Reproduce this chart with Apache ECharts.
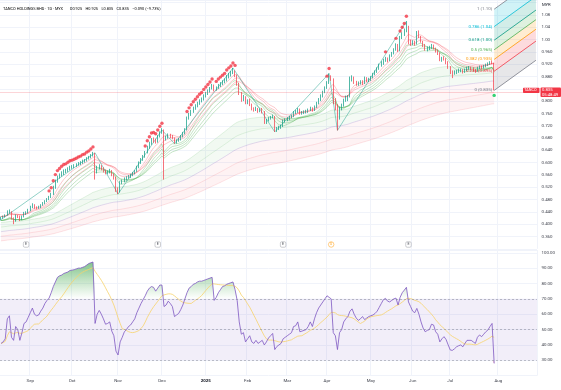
<!DOCTYPE html>
<html>
<head>
<meta charset="utf-8">
<title>TANCO HOLDINGS BHD</title>
<script src="https://cdn.jsdelivr.net/npm/echarts@6/dist/echarts.min.js"></script>
<style>
html,body{margin:0;padding:0;background:#ffffff;}
#chart{width:561px;height:390px;}
</style>
</head>
<body>
<div id="chart"></div>
<script>
// ---------------- data ----------------
const firstDate = '2024-08-13';
const holidays = ['2024-09-16','2024-10-31','2024-12-25','2025-01-01','2025-01-29','2025-01-30','2025-02-11','2025-03-18','2025-03-31','2025-04-01','2025-05-01','2025-05-12','2025-06-02','2025-06-09','2025-06-27'];
const candleCount = 237;
const futureBars = 20;
const monthNames = ['Jan','Feb','Mar','Apr','May','Jun','Jul','Aug','Sep','Oct','Nov','Dec'];

const opens = [
0.418,0.420,0.425,0.430,0.440,0.442,0.418,0.410,0.428,0.425,0.415,0.425,0.435,0.438,
0.445,0.455,0.462,0.453,0.452,0.455,0.462,0.468,0.475,0.480,0.488,0.498,0.520,0.540,0.552,0.560,0.565,0.572,0.575,0.580,
0.585,0.588,0.590,0.594,0.598,0.600,0.605,0.608,0.614,0.618,0.624,0.630,0.572,0.585,0.590,0.580,0.572,0.566,0.570,0.574,0.560,0.552,
0.512,0.505,0.535,0.540,0.548,0.552,0.556,0.560,0.566,0.572,0.586,0.600,0.610,0.620,0.635,0.650,0.662,0.674,0.672,0.668,0.686,
0.698,0.706,0.680,0.682,0.690,0.686,0.680,0.666,0.672,0.676,0.686,0.696,0.708,0.745,0.758,0.768,0.778,0.786,0.794,0.802,0.808,
0.818,0.826,0.834,0.842,0.852,0.838,0.845,0.852,0.858,0.864,0.868,0.880,0.886,0.892,0.898,0.884,0.856,0.826,0.804,0.814,
0.796,0.800,0.788,0.776,0.772,0.776,0.768,0.772,0.766,0.732,0.738,0.744,0.748,0.750,0.708,0.712,0.716,0.720,0.736,
0.740,0.744,0.748,0.752,0.764,0.766,0.774,0.760,0.762,0.764,0.766,0.772,0.778,0.770,0.782,0.794,0.806,0.818,0.830,
0.844,0.860,0.878,0.872,0.798,0.782,0.745,0.776,0.786,0.804,0.812,0.816,0.870,0.878,0.862,0.856,0.858,0.864,0.858,0.874,0.866,
0.870,0.878,0.888,0.896,0.906,0.918,0.924,0.934,0.940,0.932,0.948,0.956,0.968,0.984,0.966,1.008,1.018,1.028,1.040,0.992,
0.988,0.990,0.986,1.020,1.010,0.994,0.982,0.968,0.972,0.974,0.980,0.972,0.962,0.956,0.936,0.940,0.938,0.926,
0.910,0.894,0.890,0.895,0.898,0.900,0.902,0.895,0.902,0.908,0.908,0.905,0.900,0.898,0.908,0.912,0.910,0.914,0.918,0.922,0.926,0.925
];
const closes = [
0.420,0.425,0.430,0.440,0.442,0.418,0.410,0.428,0.425,0.415,0.425,0.435,0.438,0.445,
0.455,0.462,0.453,0.452,0.455,0.462,0.468,0.475,0.480,0.488,0.498,0.520,0.540,0.552,0.560,0.565,0.572,0.575,0.580,0.585,
0.588,0.590,0.594,0.598,0.600,0.605,0.608,0.614,0.618,0.624,0.630,0.572,0.585,0.590,0.580,0.572,0.566,0.570,0.574,0.560,0.552,0.512,
0.505,0.535,0.540,0.548,0.552,0.556,0.560,0.566,0.572,0.586,0.600,0.610,0.620,0.635,0.650,0.662,0.674,0.672,0.668,0.686,0.698,
0.706,0.680,0.682,0.690,0.686,0.680,0.666,0.672,0.676,0.686,0.696,0.708,0.745,0.758,0.768,0.778,0.786,0.794,0.802,0.808,0.818,
0.826,0.834,0.842,0.852,0.838,0.845,0.852,0.858,0.864,0.868,0.880,0.886,0.892,0.898,0.884,0.856,0.826,0.804,0.814,0.796,
0.800,0.788,0.776,0.772,0.776,0.768,0.772,0.766,0.732,0.738,0.744,0.748,0.750,0.708,0.712,0.716,0.720,0.736,0.740,
0.744,0.748,0.752,0.764,0.766,0.774,0.760,0.762,0.764,0.766,0.772,0.778,0.770,0.782,0.794,0.806,0.818,0.830,0.844,
0.860,0.878,0.872,0.798,0.782,0.745,0.776,0.786,0.804,0.812,0.816,0.870,0.878,0.862,0.856,0.858,0.864,0.858,0.874,0.866,0.870,
0.878,0.888,0.896,0.906,0.918,0.924,0.934,0.940,0.932,0.948,0.956,0.968,0.984,0.966,1.008,1.018,1.028,1.040,0.992,0.988,
0.990,0.986,1.020,1.010,0.994,0.982,0.968,0.972,0.974,0.980,0.972,0.962,0.956,0.936,0.940,0.938,0.926,0.910,
0.894,0.890,0.895,0.898,0.900,0.902,0.895,0.902,0.908,0.908,0.905,0.900,0.898,0.908,0.912,0.910,0.914,0.918,0.922,0.926,0.925,0.835
];
const highs = [
0.425,0.428,0.432,0.445,0.448,0.442,0.422,0.432,0.430,0.428,0.428,0.440,0.442,0.450,
0.460,0.468,0.465,0.458,0.460,0.465,0.472,0.478,0.485,0.492,0.502,0.525,0.545,0.558,0.565,0.572,0.578,0.580,0.585,0.590,
0.592,0.595,0.598,0.602,0.605,0.610,0.612,0.618,0.622,0.628,0.635,0.632,0.590,0.595,0.592,0.585,0.578,0.575,0.580,0.576,0.565,0.555,
0.520,0.540,0.545,0.552,0.556,0.560,0.564,0.570,0.576,0.590,0.604,0.615,0.625,0.638,0.655,0.668,0.680,0.682,0.678,0.690,0.702,
0.712,0.708,0.688,0.695,0.694,0.690,0.682,0.676,0.680,0.690,0.700,0.712,0.750,0.762,0.772,0.782,0.790,0.798,0.806,0.812,0.822,
0.830,0.838,0.846,0.856,0.854,0.848,0.856,0.862,0.868,0.874,0.885,0.892,0.898,0.908,0.900,0.886,0.860,0.830,0.820,0.816,
0.806,0.808,0.792,0.780,0.782,0.778,0.776,0.778,0.768,0.742,0.748,0.752,0.756,0.752,0.716,0.720,0.724,0.740,0.744,
0.748,0.752,0.756,0.768,0.772,0.778,0.776,0.768,0.770,0.772,0.776,0.782,0.780,0.786,0.798,0.810,0.822,0.834,0.848,
0.865,0.890,0.884,0.874,0.810,0.790,0.782,0.792,0.808,0.818,0.820,0.880,0.884,0.880,0.866,0.864,0.868,0.868,0.880,0.878,0.876,
0.882,0.892,0.900,0.910,0.922,0.930,0.938,0.944,0.942,0.952,0.960,0.972,0.988,0.986,1.012,1.024,1.036,1.060,1.045,1.000,
0.998,0.996,1.028,1.030,1.012,0.996,0.986,0.978,0.980,0.986,0.984,0.974,0.968,0.958,0.944,0.946,0.940,0.930,
0.914,0.900,0.900,0.902,0.906,0.906,0.904,0.906,0.912,0.914,0.912,0.910,0.904,0.912,0.916,0.916,0.918,0.922,0.926,0.930,0.932,0.925
];
const lows = [
0.412,0.418,0.422,0.428,0.435,0.415,0.400,0.408,0.420,0.410,0.413,0.422,0.430,0.435,
0.442,0.452,0.450,0.448,0.450,0.452,0.460,0.465,0.472,0.478,0.485,0.495,0.515,0.535,0.548,0.555,0.560,0.566,0.570,0.575,
0.580,0.582,0.586,0.590,0.592,0.596,0.600,0.604,0.610,0.614,0.620,0.545,0.565,0.578,0.575,0.568,0.562,0.562,0.565,0.556,0.545,0.505,
0.498,0.503,0.530,0.536,0.542,0.548,0.550,0.556,0.562,0.570,0.582,0.596,0.606,0.616,0.630,0.645,0.658,0.665,0.662,0.665,0.682,
0.694,0.545,0.672,0.678,0.680,0.676,0.662,0.662,0.668,0.672,0.682,0.692,0.705,0.740,0.752,0.762,0.772,0.780,0.788,0.796,0.802,
0.812,0.820,0.828,0.838,0.832,0.834,0.840,0.846,0.852,0.858,0.864,0.874,0.880,0.888,0.878,0.850,0.820,0.798,0.800,0.790,
0.790,0.784,0.770,0.766,0.768,0.762,0.764,0.760,0.726,0.726,0.734,0.740,0.744,0.700,0.700,0.706,0.710,0.716,0.730,
0.735,0.738,0.744,0.748,0.758,0.762,0.756,0.756,0.758,0.760,0.762,0.768,0.766,0.768,0.778,0.790,0.800,0.812,0.826,
0.840,0.856,0.866,0.790,0.770,0.705,0.740,0.770,0.782,0.798,0.800,0.812,0.864,0.856,0.850,0.850,0.854,0.852,0.856,0.862,0.862,
0.866,0.874,0.884,0.892,0.902,0.912,0.918,0.928,0.926,0.930,0.944,0.952,0.964,0.960,0.962,1.002,1.012,1.024,0.985,0.980,
0.982,0.980,0.984,1.005,0.990,0.976,0.964,0.962,0.966,0.970,0.968,0.958,0.950,0.930,0.928,0.932,0.920,0.905,
0.888,0.875,0.886,0.888,0.892,0.894,0.890,0.892,0.898,0.902,0.900,0.896,0.892,0.896,0.904,0.904,0.906,0.910,0.914,0.918,0.920,0.835
];
const rsiValues = [
41,42,44,57,59,45,43,52,50,43,48,54,55,58,
61,64,60,59,59.5,62,64,67,69,70.5,74,78,81,84,85,85.5,86.5,87,87.5,88.5,
88.7,89,89.5,90,90,90.5,91,92,93,93.5,94,54,60,62.5,60,57,53.5,54,55,49,46,36,
33.5,42,45,48.5,50,52,53,55,57,61,64,67,69.5,72,75,77,78,77.5,75,77,79,
79,65,66,68.5,67,65,58.5,59.5,60.5,63,66,70,74,77,78,79.5,80,81,81.5,81.5,82,
82.5,83,83.5,84,69,71,74,76,78,78.5,79.5,80,80.5,81,76,69,55,47,48,42,
44,46,42,41,43,41,42,43,40,42,44.5,46,47.5,37,39,40,41,44,45,
46,47,48,52,52.5,55,48.6,49,49.5,50,52,55,52,57,61,64,66,68,70,
72,71,70,48,46,37,48,50,55,57,58.5,62,63.5,60,57.5,56,57,58.5,56.5,57.5,58.5,
59,59.5,60.5,62,64.5,67,69.5,70.3,68.5,68,69,70,70.5,66,71,74,75.7,77.5,68,65,
62,61,63.8,60,55,51,48.6,49.5,50,53.5,53,48.6,47,42,44,45.4,43.5,40,
36.7,36.5,37.5,38.8,39.5,40,38.8,41,43,43,43,42,41,45,46.5,45.4,47,48.6,49.7,52,54,28
];
// zigzag pivots (bar index, price)
const zigIndex = [0,45,56,77,83,111,131,157,161,194];
const zigPrice = [0.415,0.632,0.498,0.706,0.662,0.908,0.700,0.890,0.705,1.060];
// events (bar index)
const earningsIdx = [12,75,135,195];
const dividendIdx = [158];
// fib drawing
const fibLevels = [0,0.236,0.382,0.5,0.618,0.786,1];
const fibLow = 0.835, fibHigh = 1.099, fibRise = 0.098;
const fibStartIdx = 236, fibEndIdx = 256;
// indicator settings
const slowPeriods = [200,160,120,90,65];
const slowSeeds = [0.345,0.360,0.375,0.390,0.405];
const fastHighPeriods = [8,12,16];
const fastLowPeriods = [8,12,16,20];
const rsiMaLen = 14;

// ---------------- build ----------------
const FONT = 'Roboto, "Liberation Sans", sans-serif';
const UP = '#089981', DOWN = '#F23645';
const dates = [];
(function () {
  const p = firstDate.split('-').map(Number);
  let t = Date.UTC(p[0], p[1] - 1, p[2]);
  while (dates.length < candleCount + futureBars) {
    const d = new Date(t);
    const s = d.toISOString().slice(0, 10);
    const w = d.getUTCDay();
    if (w !== 0 && w !== 6 && holidays.indexOf(s) < 0) dates.push(s);
    t += 86400000;
  }
})();
function isMonthStart(i) { return i > 0 && dates[i].slice(5, 7) !== dates[i - 1].slice(5, 7); }
function monthLabel(v) {
  const m = +v.slice(5, 7);
  return m === 1 ? '{y|' + v.slice(0, 4) + '}' : monthNames[m - 1];
}
function ema(src, n, seed) {
  const a = 2 / (n + 1);
  let e = (seed === undefined) ? src[0] : seed;
  return src.map(v => (e = e + a * (v - e)));
}
function sma(src, n) {
  return src.map((v, i) => {
    const s = src.slice(Math.max(0, i - n + 1), i + 1);
    return s.reduce((a, b) => a + b, 0) / s.length;
  });
}
const candleData = opens.map((o, i) => [o, closes[i], lows[i], highs[i]]);
const slow = slowPeriods.map((n, k) => ema(closes, n, slowSeeds[k]));
const fastHigh = fastHighPeriods.map(n => ema(highs, n));
const fastLow = fastLowPeriods.map(n => ema(lows, n));
const rsiMa = sma(rsiValues, rsiMaLen);
const obDots = [], osDots = [];
rsiValues.forEach((v, i) => {
  if (v > 70) obDots.push([i, highs[i]]);
  if (v < 30) osDots.push([i, lows[i]]);
});
const yMin = 0.32, yMax = 1.1289;
const markerY = yMin + 0.014;

const series = [];
// slow ribbon (stacked bands)
const slowLine = ['rgba(242,54,69,0.22)','rgba(242,54,69,0.22)','rgba(126,87,194,0.35)','rgba(76,175,80,0.25)','rgba(76,175,80,0.25)'];
const slowFill = [null,'rgba(242,54,69,0.09)','rgba(242,54,69,0.07)','rgba(76,175,80,0.09)','rgba(76,175,80,0.11)'];
slow.forEach((arr, k) => {
  const data = k === 0 ? arr : arr.map((v, i) => v - slow[k - 1][i]);
  const s = {
    type: 'line', xAxisIndex: 0, yAxisIndex: 0, data: data, stack: 'slow', stackStrategy: 'all',
    symbol: 'none', silent: true, z: 1,
    lineStyle: { width: 0.6, color: slowLine[k] }
  };
  if (slowFill[k]) s.areaStyle = { color: slowFill[k] };
  series.push(s);
});
fastHigh.forEach(arr => series.push({
  type: 'line', xAxisIndex: 0, yAxisIndex: 0, data: arr, symbol: 'none', silent: true, z: 2,
  lineStyle: { width: 0.6, color: 'rgba(242,54,69,0.45)' }
}));
fastLow.forEach(arr => series.push({
  type: 'line', xAxisIndex: 0, yAxisIndex: 0, data: arr, symbol: 'none', silent: true, z: 2,
  lineStyle: { width: 0.6, color: 'rgba(76,175,80,0.55)' }
}));
series.push({
  type: 'line', xAxisIndex: 0, yAxisIndex: 0, data: zigIndex.map((x, i) => [x, zigPrice[i]]),
  symbol: 'none', silent: true, z: 3, lineStyle: { width: 0.6, color: 'rgba(8,153,129,0.75)' }
});
// fib channel
function fmtFib(p) {
  const r = Math.round(p / 0.005) * 0.005;
  return r >= 1 ? r.toFixed(2) : r.toFixed(3);
}
const fibColors = ['#787B86','#F23645','#FF9800','#4CAF50','#089981','#00BCD4','#787B86'];
const fibFill = ['rgba(120,123,134,0.18)','rgba(242,54,69,0.18)','rgba(255,152,0,0.18)','rgba(76,175,80,0.18)','rgba(8,153,129,0.18)','rgba(0,188,212,0.18)'];
series.push({
  type: 'custom', xAxisIndex: 0, yAxisIndex: 0, z: 3, silent: true, clip: true,
  data: [[fibStartIdx, fibLow]],
  renderItem: function (params, api) {
    const pts = fibLevels.map(l => {
      const price = fibLow + l * (fibHigh - fibLow);
      return { l: l, price: price, a: api.coord([fibStartIdx, price]), b: api.coord([fibEndIdx, price + fibRise]) };
    });
    const ch = [];
    for (let k = 0; k < pts.length - 1; k++) {
      ch.push({ type: 'polygon', shape: { points: [pts[k].a, pts[k].b, pts[k + 1].b, pts[k + 1].a] }, style: { fill: fibFill[k] } });
    }
    pts.forEach((p, k) => {
      ch.push({ type: 'line', shape: { x1: p.a[0], y1: p.a[1], x2: p.b[0], y2: p.b[1] }, style: { stroke: fibColors[k], lineWidth: 0.8 } });
      ch.push({ type: 'text', x: p.a[0] - 2, y: p.a[1], style: { text: p.l + ' (' + fmtFib(p.price) + ')', fill: fibColors[k], fontSize: 4.4, fontFamily: FONT, align: 'right', verticalAlign: 'middle' } });
    });
    return { type: 'group', children: ch };
  }
});
series.push({
  type: 'candlestick', xAxisIndex: 0, yAxisIndex: 0, data: candleData, z: 4, barWidth: 1.3,
  itemStyle: { color: UP, color0: DOWN, borderColor: UP, borderColor0: DOWN, borderWidth: 0.7 },
  markLine: {
    silent: true, symbol: 'none', label: { show: false },
    lineStyle: { color: 'rgba(242,54,69,0.3)', width: 0.7, type: 'solid' },
    data: [{ yAxis: closes[closes.length - 1] }]
  }
});
series.push({
  type: 'scatter', xAxisIndex: 0, yAxisIndex: 0, data: obDots, symbolSize: 3.4, symbolOffset: [0, -5],
  itemStyle: { color: DOWN }, z: 5, silent: true
});
series.push({
  type: 'scatter', xAxisIndex: 0, yAxisIndex: 0, data: osDots, symbolSize: 3.4, symbolOffset: [0, 5],
  itemStyle: { color: '#00C853' }, z: 5, silent: true
});
series.push({
  type: 'scatter', xAxisIndex: 0, yAxisIndex: 0, data: earningsIdx.map(i => [i, markerY]),
  symbol: 'roundRect', symbolSize: 5.5, z: 6, silent: true,
  itemStyle: { color: '#ffffff', borderColor: '#9598A1', borderWidth: 0.6 },
  label: { show: true, position: 'inside', formatter: 'E', fontSize: 3.6, color: '#131722', fontFamily: FONT }
});
series.push({
  type: 'scatter', xAxisIndex: 0, yAxisIndex: 0, data: dividendIdx.map(i => [i, markerY]),
  symbol: 'circle', symbolSize: 5.5, z: 6, silent: true,
  itemStyle: { color: '#ffffff', borderColor: '#FF9800', borderWidth: 0.6 },
  label: { show: true, position: 'inside', formatter: 'D', fontSize: 3.4, color: '#FF9800', fontFamily: FONT }
});
// RSI pane
series.push({
  type: 'line', xAxisIndex: 1, yAxisIndex: 1, data: rsiValues.map(v => Math.min(v, 30)), stack: 'os',
  symbol: 'none', silent: true, lineStyle: { width: 0, opacity: 0 }, z: 1
});
series.push({
  type: 'line', xAxisIndex: 1, yAxisIndex: 1, data: rsiValues.map(v => 30 - Math.min(v, 30)), stack: 'os',
  symbol: 'none', silent: true, lineStyle: { width: 0, opacity: 0 }, z: 1,
  areaStyle: { color: new echarts.graphic.LinearGradient(0, 0, 0, 1, [{ offset: 0, color: 'rgba(242,54,69,0)' }, { offset: 1, color: 'rgba(242,54,69,0.8)' }]) }
});
series.push({
  type: 'line', xAxisIndex: 1, yAxisIndex: 1, data: rsiValues.map(() => 70), stack: 'ob',
  symbol: 'none', silent: true, lineStyle: { width: 0, opacity: 0 }, z: 1
});
series.push({
  type: 'line', xAxisIndex: 1, yAxisIndex: 1, data: rsiValues.map(v => Math.max(v - 70, 0)), stack: 'ob',
  symbol: 'none', silent: true, lineStyle: { width: 0, opacity: 0 }, z: 1,
  areaStyle: { color: new echarts.graphic.LinearGradient(0, 0, 0, 1, [{ offset: 0, color: 'rgba(56,160,70,0.9)' }, { offset: 1, color: 'rgba(76,175,80,0)' }]) }
});
series.push({
  type: 'line', xAxisIndex: 1, yAxisIndex: 1, data: rsiMa, symbol: 'none', silent: true, z: 2,
  lineStyle: { width: 0.8, color: '#F7D36B' }
});
series.push({
  type: 'line', xAxisIndex: 1, yAxisIndex: 1, data: rsiValues, symbol: 'none', silent: true, z: 3,
  lineStyle: { width: 0.8, color: '#7E57C2' },
  markArea: { silent: true, itemStyle: { color: 'rgba(126,87,194,0.1)' }, data: [[{ yAxis: 30 }, { yAxis: 70 }]] },
  markLine: {
    silent: true, symbol: 'none', label: { show: false },
    lineStyle: { color: 'rgba(120,123,134,0.75)', width: 0.6, type: [2, 2] },
    data: [{ yAxis: 70 }, { yAxis: 50 }, { yAxis: 30 }]
  }
});

const gridLine = { show: true, lineStyle: { color: '#F0F3FA', width: 1 } };
const axisFont = { fontSize: 4.4, color: '#3c3f4a', fontFamily: FONT };
const option = {
  animation: false,
  backgroundColor: '#ffffff',
  grid: [
    { left: -1, right: 24, top: 0, height: 248.8 },
    { left: -1, right: 24, top: 250, height: 125.7 }
  ],
  xAxis: [
    { type: 'category', gridIndex: 0, data: dates, axisLine: { show: false }, axisTick: { show: false },
      axisLabel: { show: false }, splitLine: Object.assign({ interval: (i) => isMonthStart(i) }, gridLine) },
    { type: 'category', gridIndex: 1, data: dates, axisLine: { show: false }, axisTick: { show: false },
      axisLabel: Object.assign({ interval: (i) => isMonthStart(i), formatter: monthLabel, margin: 3,
        rich: { y: { fontSize: 4.4, fontWeight: 'bold', color: '#131722', fontFamily: FONT } } }, axisFont),
      splitLine: Object.assign({ interval: (i) => isMonthStart(i) }, gridLine) }
  ],
  yAxis: [
    { type: 'value', gridIndex: 0, position: 'right', min: yMin, max: yMax, interval: 0.04, scale: true,
      axisLine: { show: false }, axisTick: { show: false }, splitLine: gridLine,
      axisLabel: Object.assign({ margin: 4.5, showMaxLabel: false, showMinLabel: false,
        formatter: function (v) {
          const r = Math.round(v * 1000) / 1000;
          if (r < 0.35 || r > 1.1 || Math.abs(r - 0.84) < 0.001) return '';
          return r >= 1 ? r.toFixed(2) : r.toFixed(3);
        } }, axisFont) },
    { type: 'value', gridIndex: 1, position: 'right', min: 20, max: 101.8, interval: 10,
      axisLine: { show: false }, axisTick: { show: false }, splitLine: gridLine,
      axisLabel: Object.assign({ margin: 4.5, showMaxLabel: false,
        formatter: function (v) { return (v < 25 || v > 100.5) ? '' : v.toFixed(2); } }, axisFont) }
  ],
  series: series
};

const chart = echarts.init(document.getElementById('chart'), null, { renderer: 'canvas' });
chart.setOption(option);

// overlay texts: legend/title, currency, price tag
const last = closes.length - 1;
const py = chart.convertToPixel({ gridIndex: 0 }, [last, closes[last]])[1];
const gridRight = 561 - 24;
const pct = ((closes[last] - closes[last - 1]) / closes[last - 1] * 100).toFixed(2);
const chg = (closes[last] - closes[last - 1]).toFixed(3);
chart.setOption({
  graphic: [
    { type: 'text', left: 3, top: 3, silent: true, style: {
      text: '{n|TANCO HOLDINGS BHD · 1D · MYX}  {k|O}{v|' + opens[last].toFixed(3) + '} {k|H}{v|' + highs[last].toFixed(3) +
            '} {k|L}{v|' + lows[last].toFixed(3) + '} {k|C}{v|' + closes[last].toFixed(3) + '} {v|' + chg.replace('-', '−') + ' (' + pct.replace('-', '−') + '%)}',
      rich: {
        n: { fontSize: 3.9, color: '#131722', fontFamily: FONT },
        k: { fontSize: 3.9, color: '#131722', fontFamily: FONT },
        v: { fontSize: 3.9, color: '#F23645', fontFamily: FONT }
      } } },
    { type: 'text', left: gridRight + 5, top: 3, silent: true, style: { text: 'MYR', fontSize: 4.2, fill: '#131722', fontFamily: FONT } },
    { type: 'rect', silent: true, z: 100, shape: { x: gridRight + 3.5, y: py - 3, width: 561 - gridRight - 3.5, height: 9.5, r: 1 }, style: { fill: '#F23645' } },
    { type: 'text', silent: true, z: 101, x: gridRight + 5, y: py - 2.6, style: { text: closes[last].toFixed(3) + '\n05:48:49', fill: '#ffffff', fontSize: 4.2, lineHeight: 4.6, fontFamily: FONT } },
    { type: 'rect', silent: true, z: 100, shape: { x: gridRight - 14, y: py - 2.6, width: 16.5, height: 5.2, r: 0.8 }, style: { fill: '#F23645' } },
    { type: 'text', silent: true, z: 101, x: gridRight - 12.8, y: py - 2.1, style: { text: 'TANCO', fill: '#ffffff', fontSize: 3.8, fontFamily: FONT } }
  ]
});
</script>
</body>
</html>
